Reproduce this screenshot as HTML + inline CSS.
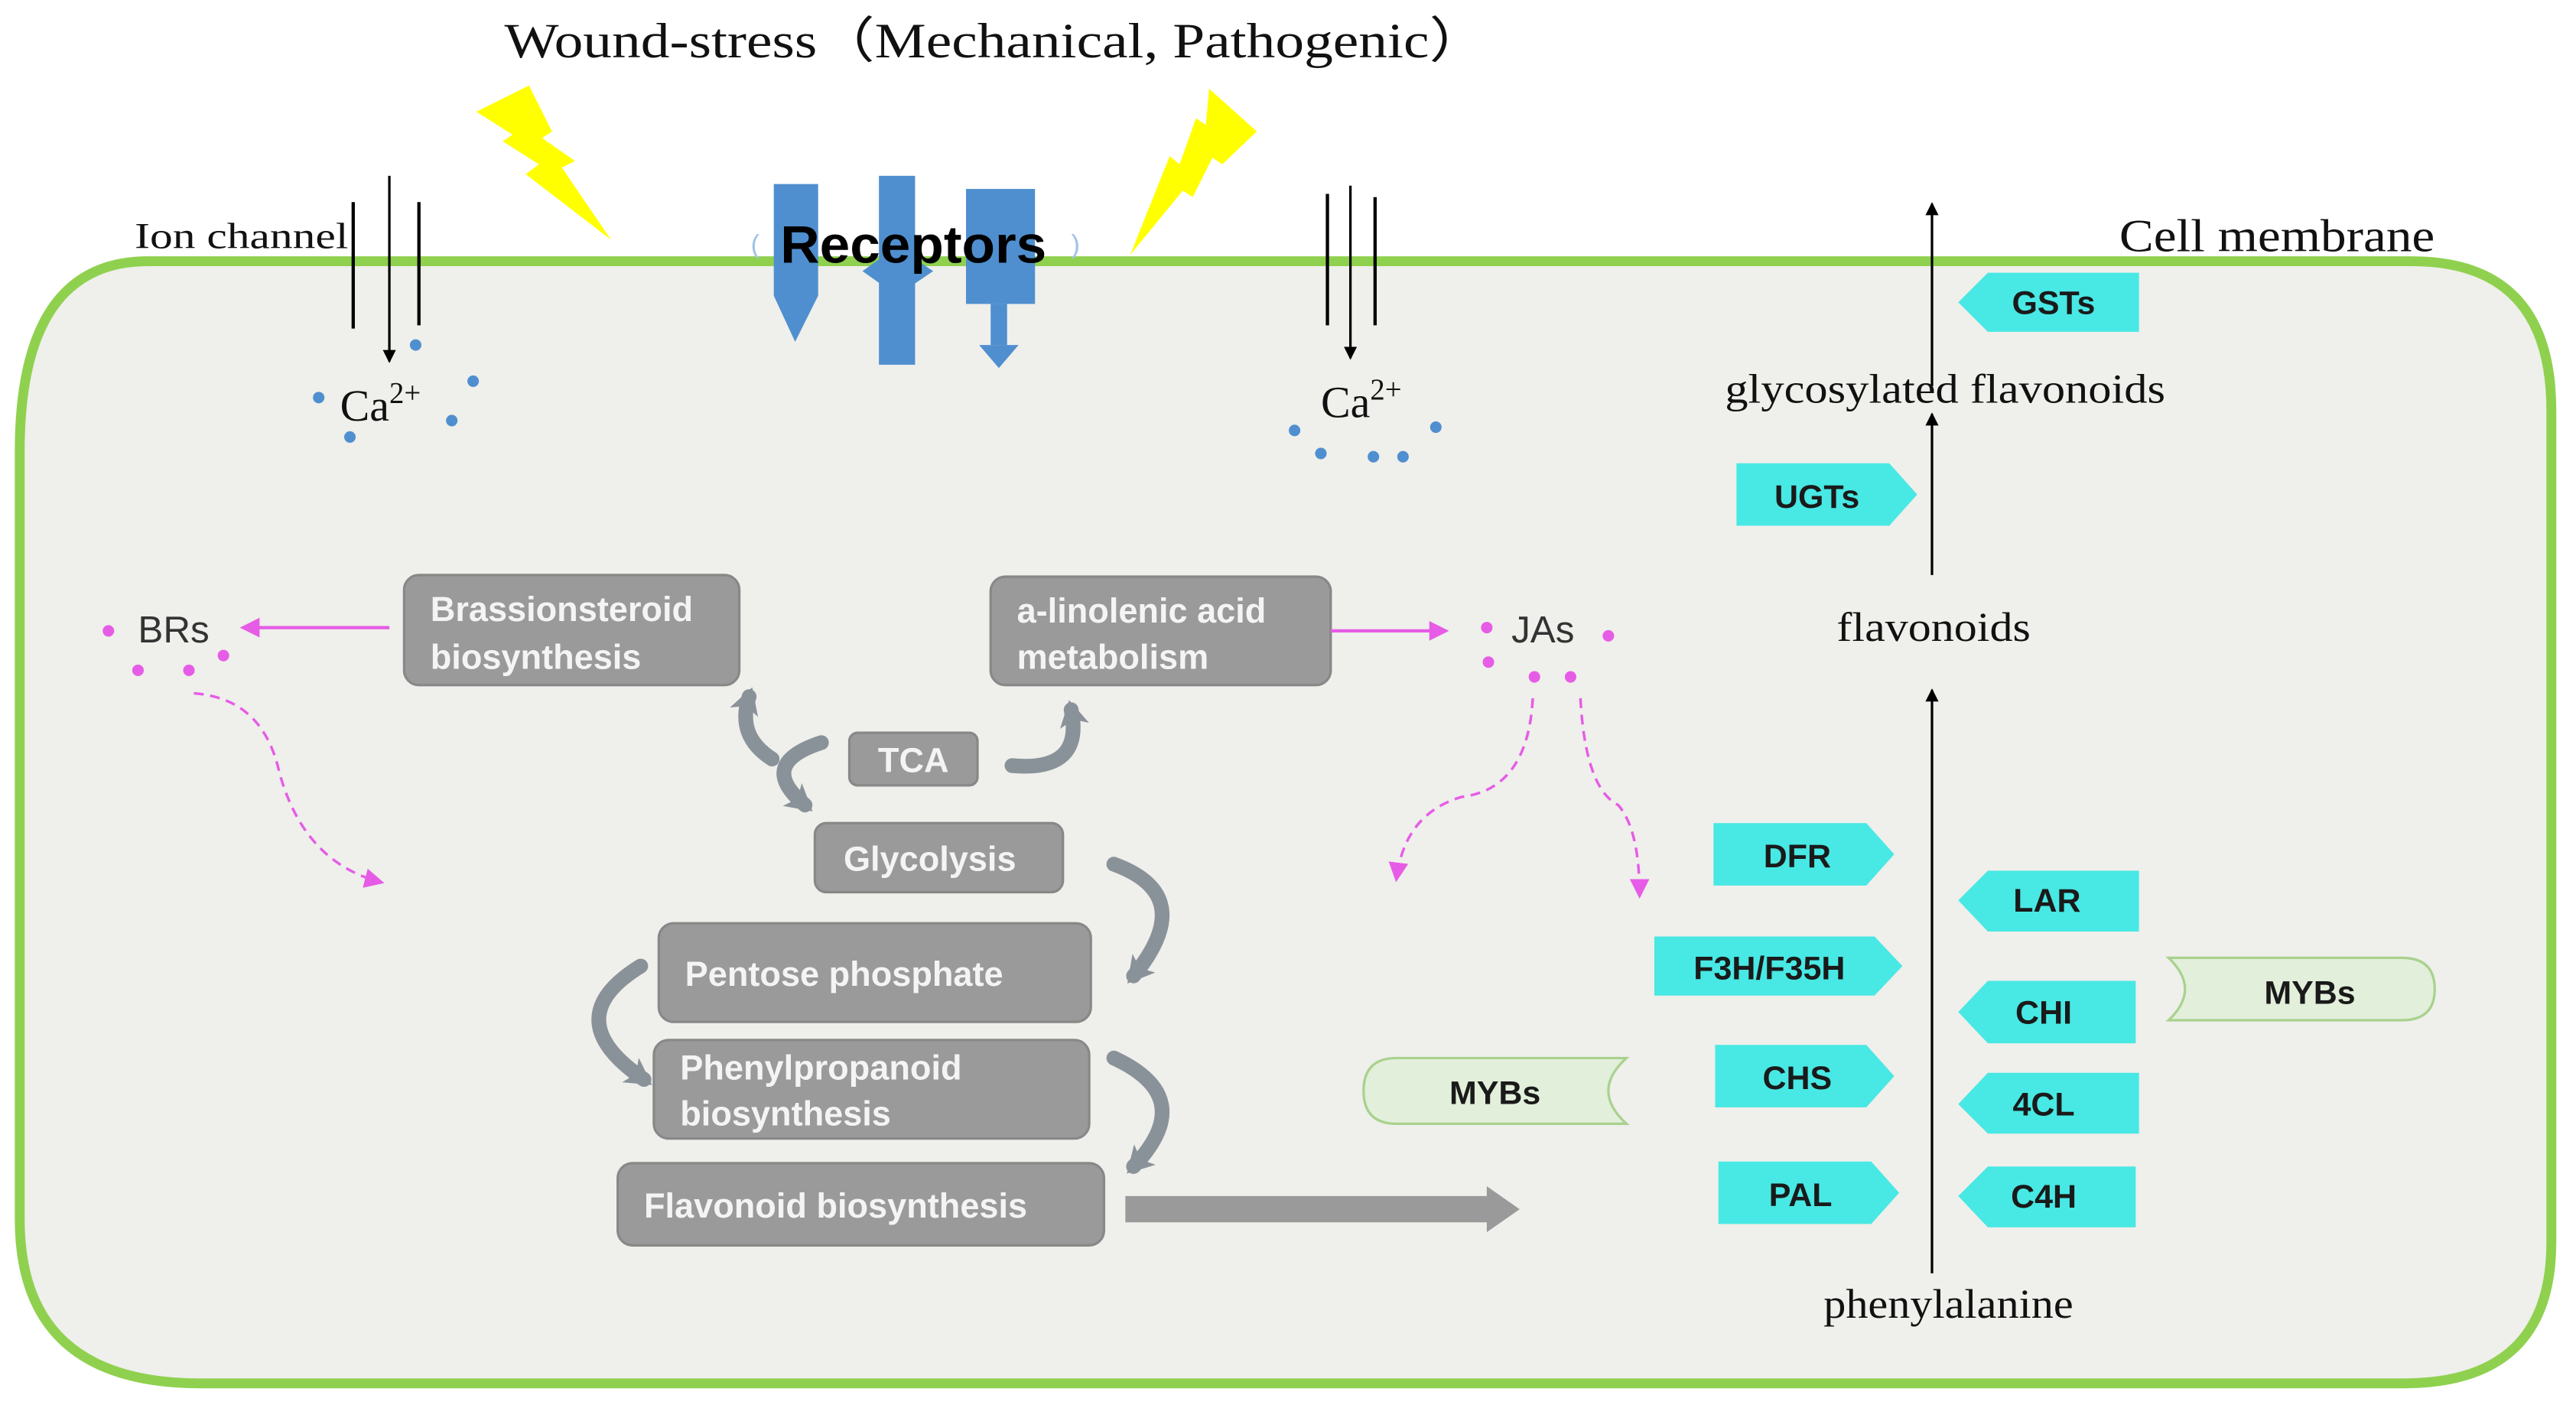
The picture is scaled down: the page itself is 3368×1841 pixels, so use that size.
<!DOCTYPE html>
<html><head><meta charset="utf-8"><style>
html,body{margin:0;padding:0;background:#fff;}
svg{display:block;}
.serif{font-family:"Liberation Serif",serif;fill:#111;}
.box{fill:#9a9a9a;stroke:#888;stroke-width:1.5;}
.bt{font-family:"Liberation Sans",sans-serif;font-weight:bold;fill:#f4f4f4;font-size:21px;}
.cy{fill:#48e8e4;}
.ct{font-family:"Liberation Sans",sans-serif;font-weight:bold;fill:#1a1a1a;font-size:20px;text-anchor:middle;}
.mg{fill:#e65ce6;}
.bl{fill:#4f8fcf;}
</style></head><body>
<svg width="3368" height="1841" viewBox="0 0 1568 857" preserveAspectRatio="none" xmlns="http://www.w3.org/2000/svg">
<defs>
<marker id="ab" markerWidth="8" markerHeight="8" refX="7" refY="4" orient="auto" markerUnits="userSpaceOnUse"><path d="M0,0 L8,4 L0,8 z" fill="#000"/></marker>
<marker id="am" markerWidth="12" markerHeight="12" refX="10" refY="6" orient="auto" markerUnits="userSpaceOnUse"><path d="M0,0 L12,6 L0,12 z" fill="#e65ce6"/></marker>
<marker id="ag" markerWidth="16" markerHeight="18" refX="10" refY="9" orient="auto" markerUnits="userSpaceOnUse"><path d="M0,0 L16,9 L0,18 L4,9 z" fill="#8a9299"/></marker>
</defs>
<rect width="1568" height="857" fill="#fff"/>
<path d="M90,159 L1468,159 Q1553,159 1553,250 L1553,756 Q1553,842 1463,842 L122,842 Q12,842 12,742 L12,275 Q12,159 90,159 Z" fill="#efefeb" stroke="#8fd14f" stroke-width="6"/>
<text x="307" y="35" class="serif" font-size="30" textLength="598" lengthAdjust="spacingAndGlyphs">Wound-stress（Mechanical, Pathogenic）</text>
<polygon points="290,68 322,52 336,80 330,84 350,98 342,102 372,146 320,106 328,100 306,86 312,82" fill="#ffff00"/>
<polygon points="688,155 712,95 718,100 728,72 734,76 736,54 765,80 744,100 738,96 726,120 720,116" fill="#ffff00"/>
<text x="82" y="151" class="serif" font-size="22" textLength="130" lengthAdjust="spacingAndGlyphs">Ion channel</text>
<line x1="215" y1="123" x2="215" y2="200" stroke="#000" stroke-width="2"/>
<line x1="255" y1="123" x2="255" y2="198" stroke="#000" stroke-width="2"/>
<line x1="237" y1="107" x2="237" y2="220" stroke="#000" stroke-width="1.5" marker-end="url(#ab)"/>
<text x="207" y="256" class="serif" font-size="27">Ca<tspan font-size="18" dy="-11">2+</tspan></text>
<g class="bl"><circle cx="253" cy="210" r="3.5"/><circle cx="194" cy="242" r="3.5"/><circle cx="288" cy="232" r="3.5"/><circle cx="275" cy="256" r="3.5"/><circle cx="213" cy="266" r="3.5"/></g>
<text x="457" y="154" font-family="Liberation Sans,sans-serif" font-size="16" fill="#9ec3e6">(</text>
<text x="652" y="154" font-family="Liberation Sans,sans-serif" font-size="16" fill="#9ec3e6">)</text>
<g class="bl">
<polygon points="471,112 498,112 498,180 484,208 471,180"/>
<rect x="535" y="107" width="22" height="115"/>
<polygon points="525,165 546,150 568,165 546,180"/>
<rect x="588" y="115" width="42" height="70"/>
<rect x="603" y="185" width="10" height="25"/>
<polygon points="596,210 620,210 608,224"/>
</g>
<text x="475" y="160" font-family="Liberation Sans,sans-serif" font-size="32" font-weight="bold" fill="#000" textLength="162" lengthAdjust="spacingAndGlyphs">Receptors</text>
<line x1="808" y1="118" x2="808" y2="198" stroke="#000" stroke-width="2"/>
<line x1="837" y1="120" x2="837" y2="198" stroke="#000" stroke-width="2"/>
<line x1="822" y1="113" x2="822" y2="218" stroke="#000" stroke-width="1.5" marker-end="url(#ab)"/>
<text x="804" y="254" class="serif" font-size="27" fill="#333">Ca<tspan font-size="18" dy="-11">2+</tspan></text>
<g class="bl"><circle cx="788" cy="262" r="3.5"/><circle cx="874" cy="260" r="3.5"/><circle cx="804" cy="276" r="3.5"/><circle cx="836" cy="278" r="3.5"/><circle cx="854" cy="278" r="3.5"/></g>
<text x="1290" y="153" class="serif" font-size="28" textLength="192" lengthAdjust="spacingAndGlyphs">Cell membrane</text>
<line x1="1176" y1="235" x2="1176" y2="124" stroke="#000" stroke-width="1.5" marker-end="url(#ab)"/>
<line x1="1176" y1="350" x2="1176" y2="252" stroke="#000" stroke-width="1.5" marker-end="url(#ab)"/>
<line x1="1176" y1="775" x2="1176" y2="420" stroke="#000" stroke-width="1.5" marker-end="url(#ab)"/>
<text x="1050" y="245" class="serif" font-size="25" textLength="268" lengthAdjust="spacingAndGlyphs">glycosylated  flavonoids</text>
<text x="1118" y="390" class="serif" font-size="25" textLength="118" lengthAdjust="spacingAndGlyphs">flavonoids</text>
<text x="1110" y="802" class="serif" font-size="25" textLength="152" lengthAdjust="spacingAndGlyphs">phenylalanine</text>
<g class="cy">
<polygon points="1192,184 1210,166 1302,166 1302,202 1210,202"/>
<polygon points="1192,548 1210,530 1302,530 1302,567 1210,567"/>
<polygon points="1192,616 1210,597 1300,597 1300,635 1210,635"/>
<polygon points="1192,672 1210,653 1302,653 1302,690 1210,690"/>
<polygon points="1192,728 1210,710 1300,710 1300,747 1210,747"/>
<polygon points="1057,282 1150,282 1167,301 1150,320 1057,320"/>
<polygon points="1043,501 1136,501 1153,520 1136,539 1043,539"/>
<polygon points="1007,570 1141,570 1158,588 1141,606 1007,606"/>
<polygon points="1044,636 1136,636 1153,655 1136,674 1044,674"/>
<polygon points="1046,707 1139,707 1156,726 1139,745 1046,745"/>
</g>
<g class="ct">
<text x="1250" y="191">GSTs</text>
<text x="1246" y="555">LAR</text>
<text x="1244" y="623">CHI</text>
<text x="1244" y="679">4CL</text>
<text x="1244" y="735">C4H</text>
<text x="1106" y="309">UGTs</text>
<text x="1094" y="528">DFR</text>
<text x="1077" y="596">F3H/F35H</text>
<text x="1094" y="663">CHS</text>
<text x="1096" y="734">PAL</text>
</g>
<path d="M1320,583 L1462,583 Q1482,583 1482,602 Q1482,621 1462,621 L1320,621 Q1340,602 1320,583 Z" fill="#e2efda" stroke="#a9d18e" stroke-width="1.5"/>
<text x="1406" y="611" class="ct" font-weight="normal" fill="#111">MYBs</text>
<path d="M990,644 L850,644 Q830,644 830,664 Q830,684 850,684 L990,684 Q968,664 990,644 Z" fill="#e2efda" stroke="#a9d18e" stroke-width="1.5"/>
<text x="910" y="672" class="ct" font-weight="normal" fill="#111">MYBs</text>
<rect x="246" y="350" width="204" height="67" rx="9" class="box"/>
<text x="262" y="378" class="bt">Brassionsteroid</text><text x="262" y="407" class="bt">biosynthesis</text>
<rect x="603" y="351" width="207" height="66" rx="9" class="box"/>
<text x="619" y="379" class="bt">a-linolenic acid</text><text x="619" y="407" class="bt">metabolism</text>
<rect x="517" y="446" width="78" height="32" rx="5" class="box"/>
<text x="556" y="470" class="bt" text-anchor="middle">TCA</text>
<rect x="496" y="501" width="151" height="42" rx="7" class="box"/>
<text x="566" y="530" class="bt" text-anchor="middle">Glycolysis</text>
<rect x="401" y="562" width="263" height="60" rx="9" class="box"/>
<text x="417" y="600" class="bt">Pentose phosphate</text>
<rect x="398" y="633" width="265" height="60" rx="9" class="box"/>
<text x="414" y="657" class="bt">Phenylpropanoid</text><text x="414" y="685" class="bt">biosynthesis</text>
<rect x="376" y="708" width="296" height="50" rx="9" class="box"/>
<text x="392" y="741" class="bt">Flavonoid biosynthesis</text>
<polygon points="685,728 905,728 905,722 925,736 905,750 905,744 685,744" fill="#9a9a9a"/>
<g fill="none" stroke="#8a9299" stroke-width="9" stroke-linecap="round">
<path d="M678,526 Q730,545 690,594" marker-end="url(#ag)"/>
<path d="M390,588 Q338,620 392,657" marker-end="url(#ag)"/>
<path d="M678,644 Q730,668 690,710" marker-end="url(#ag)"/>
<path d="M500,452 Q460,465 490,490" marker-end="url(#ag)"/>
<path d="M470,462 Q448,448 456,424" marker-end="url(#ag)"/>
<path d="M616,466 Q660,470 652,432" marker-end="url(#ag)"/>
</g>
<text x="84" y="391" font-family="Liberation Sans,sans-serif" font-size="23" fill="#333">BRs</text>
<g class="mg"><circle cx="66" cy="384" r="3.5"/><circle cx="84" cy="408" r="3.5"/><circle cx="115" cy="408" r="3.5"/><circle cx="136" cy="399" r="3.5"/></g>
<line x1="237" y1="382" x2="148" y2="382" stroke="#e65ce6" stroke-width="2" marker-end="url(#am)"/>
<path d="M118,422 Q160,425 170,470 Q185,525 232,537" fill="none" stroke="#e65ce6" stroke-width="1.6" stroke-dasharray="6,4" marker-end="url(#am)"/>
<text x="920" y="391" font-family="Liberation Sans,sans-serif" font-size="23" fill="#333">JAs</text>
<g class="mg"><circle cx="905" cy="382" r="3.5"/><circle cx="979" cy="387" r="3.5"/><circle cx="906" cy="403" r="3.5"/><circle cx="934" cy="412" r="3.5"/><circle cx="956" cy="412" r="3.5"/></g>
<line x1="810" y1="384" x2="880" y2="384" stroke="#e65ce6" stroke-width="2" marker-end="url(#am)"/>
<path d="M933,425 Q930,480 890,485 Q855,495 850,535" fill="none" stroke="#e65ce6" stroke-width="1.6" stroke-dasharray="6,4" marker-end="url(#am)"/>
<path d="M962,425 Q965,480 985,490 Q998,505 998,545" fill="none" stroke="#e65ce6" stroke-width="1.6" stroke-dasharray="6,4" marker-end="url(#am)"/>
</svg>
</body></html>
